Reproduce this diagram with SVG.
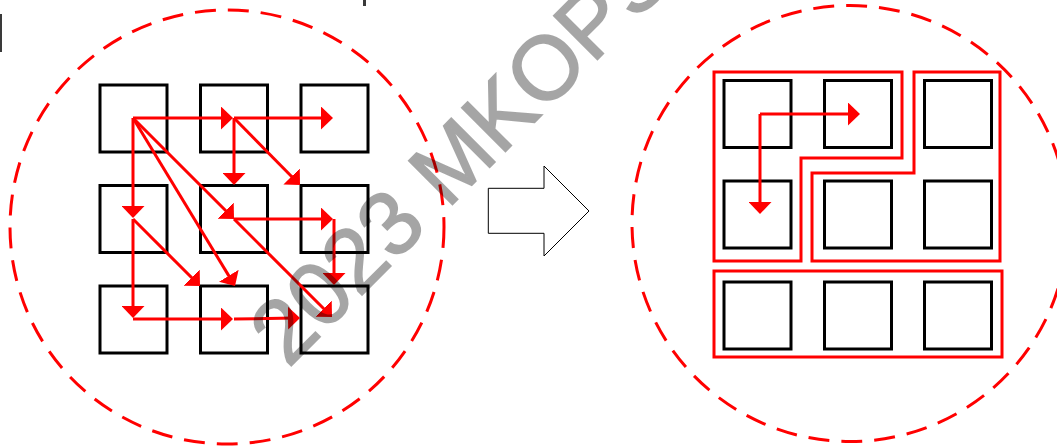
<svg xmlns="http://www.w3.org/2000/svg" width="1057" height="448" viewBox="0 0 1057 448">
  <style>
    .cell { fill: #ffffff; stroke: #000000; stroke-width: 3; }
    .scope { fill: none; stroke: #ff0000; stroke-width: 3; stroke-dasharray: 21 12; }
    .region { fill: none; stroke: #ff0000; stroke-width: 3; }
    .flow { fill: none; stroke: #ff0000; stroke-width: 3; marker-end: url(#head); }
    .mark { fill: #3a3a3a; }
    .stamp { font-family: "Liberation Sans", Arial, sans-serif; font-size: 90px; fill: #000000; stroke: #000000; stroke-width: 1.6; opacity: 0.35; }
  </style>
  <defs>
    <marker id="head" markerUnits="userSpaceOnUse" markerWidth="12" markerHeight="23" refX="6" refY="11.5" orient="auto">
      <path d="M0,0 L12,11.5 L0,23 Z" fill="#ff0000"/>
    </marker>
  </defs>

  <rect width="1057" height="448" fill="#ffffff"/>

  <!-- fragments of clipped heading text -->
  <rect class="mark" x="0" y="14" width="2" height="38"/>
  <rect class="mark" x="363" y="0" width="3" height="6"/>

  <!-- dashed scopes -->
  <circle id="scope-left" class="scope" cx="227" cy="227" r="217"/>
  <circle id="scope-right" class="scope" cx="850" cy="223.5" r="218"/>

  <!-- left grid -->
  <g id="left-grid">
    <g id="l11"><rect class="cell" x="100" y="85" width="67" height="67"/></g>
    <g id="l12"><rect class="cell" x="200.5" y="85" width="67" height="67"/></g>
    <g id="l13"><rect class="cell" x="301" y="85" width="67" height="67"/></g>
    <g id="l21"><rect class="cell" x="100" y="185.5" width="67" height="67"/></g>
    <g id="l22"><rect class="cell" x="200.5" y="185.5" width="67" height="67"/></g>
    <g id="l23"><rect class="cell" x="301" y="185.5" width="67" height="67"/></g>
    <g id="l31"><rect class="cell" x="100" y="286" width="67" height="67"/></g>
    <g id="l32"><rect class="cell" x="200.5" y="286" width="67" height="67"/></g>
    <g id="l33"><rect class="cell" x="301" y="286" width="67" height="67"/></g>
  </g>

  <!-- right grid with grouped regions -->
  <g id="right-grid">
    <g id="r11"><rect class="cell" x="724" y="80.5" width="67" height="67"/></g>
    <g id="r12"><rect class="cell" x="824.5" y="80.5" width="67" height="67"/></g>
    <g id="r13"><rect class="cell" x="924.5" y="80.5" width="67" height="67"/></g>
    <g id="r21"><rect class="cell" x="724" y="181" width="67" height="67"/></g>
    <g id="r22"><rect class="cell" x="824.5" y="181" width="67" height="67"/></g>
    <g id="r23"><rect class="cell" x="924.5" y="181" width="67" height="67"/></g>
    <g id="r31"><rect class="cell" x="724" y="282" width="67" height="67"/></g>
    <g id="r32"><rect class="cell" x="824.5" y="282" width="67" height="67"/></g>
    <g id="r33"><rect class="cell" x="924.5" y="282" width="67" height="67"/></g>
  </g>
  <g id="regions">
    <path id="region-a" class="region" d="M714,72 H902 V158 H801 V261 H714 Z"/>
    <path id="region-b" class="region" d="M914,72 H1000 V261 H812 V173 H914 Z"/>
    <rect id="region-c" class="region" x="714" y="271" width="288" height="86"/>
  </g>

  <!-- transition arrow -->
  <g id="transition">
    <polygon points="488.3,188.3 544,188.3 544,166 589,211 544,256 544,233.3 488.3,233.3" fill="#ffffff" stroke="#000000" stroke-width="1"/>
  </g>

  <!-- connectors -->
  <g id="connectors">
    <path class="flow" d="M133,118 L227,118"/>
    <path class="flow" d="M234,118 L327,118"/>
    <path class="flow" d="M133,118 L133,212"/>
    <path class="flow" d="M133,219 L133,312"/>
    <path class="flow" d="M133,319 L227,319"/>
    <path class="flow" d="M234,319 L294,318"/>
    <path class="flow" d="M234,118 L234,179"/>
    <path class="flow" d="M234,118 L295.8,180.7"/>
    <path class="flow" d="M133,118 L229.8,214.8"/>
    <path class="flow" d="M234,219 L327,219"/>
    <path class="flow" d="M334,219 L334,279"/>
    <path class="flow" d="M234,219 L327.8,312.8"/>
    <path class="flow" d="M133,118 L231.9,280.9"/>
    <path class="flow" d="M133,219 L195.8,281.8"/>
    <path class="flow" d="M760,114 L854,114"/>
    <path class="flow" d="M760,114 L760,208"/>
  </g>

  <!-- watermark -->
  <text class="stamp" transform="translate(288,369) rotate(-45)">2023 MKOPS</text>
</svg>
